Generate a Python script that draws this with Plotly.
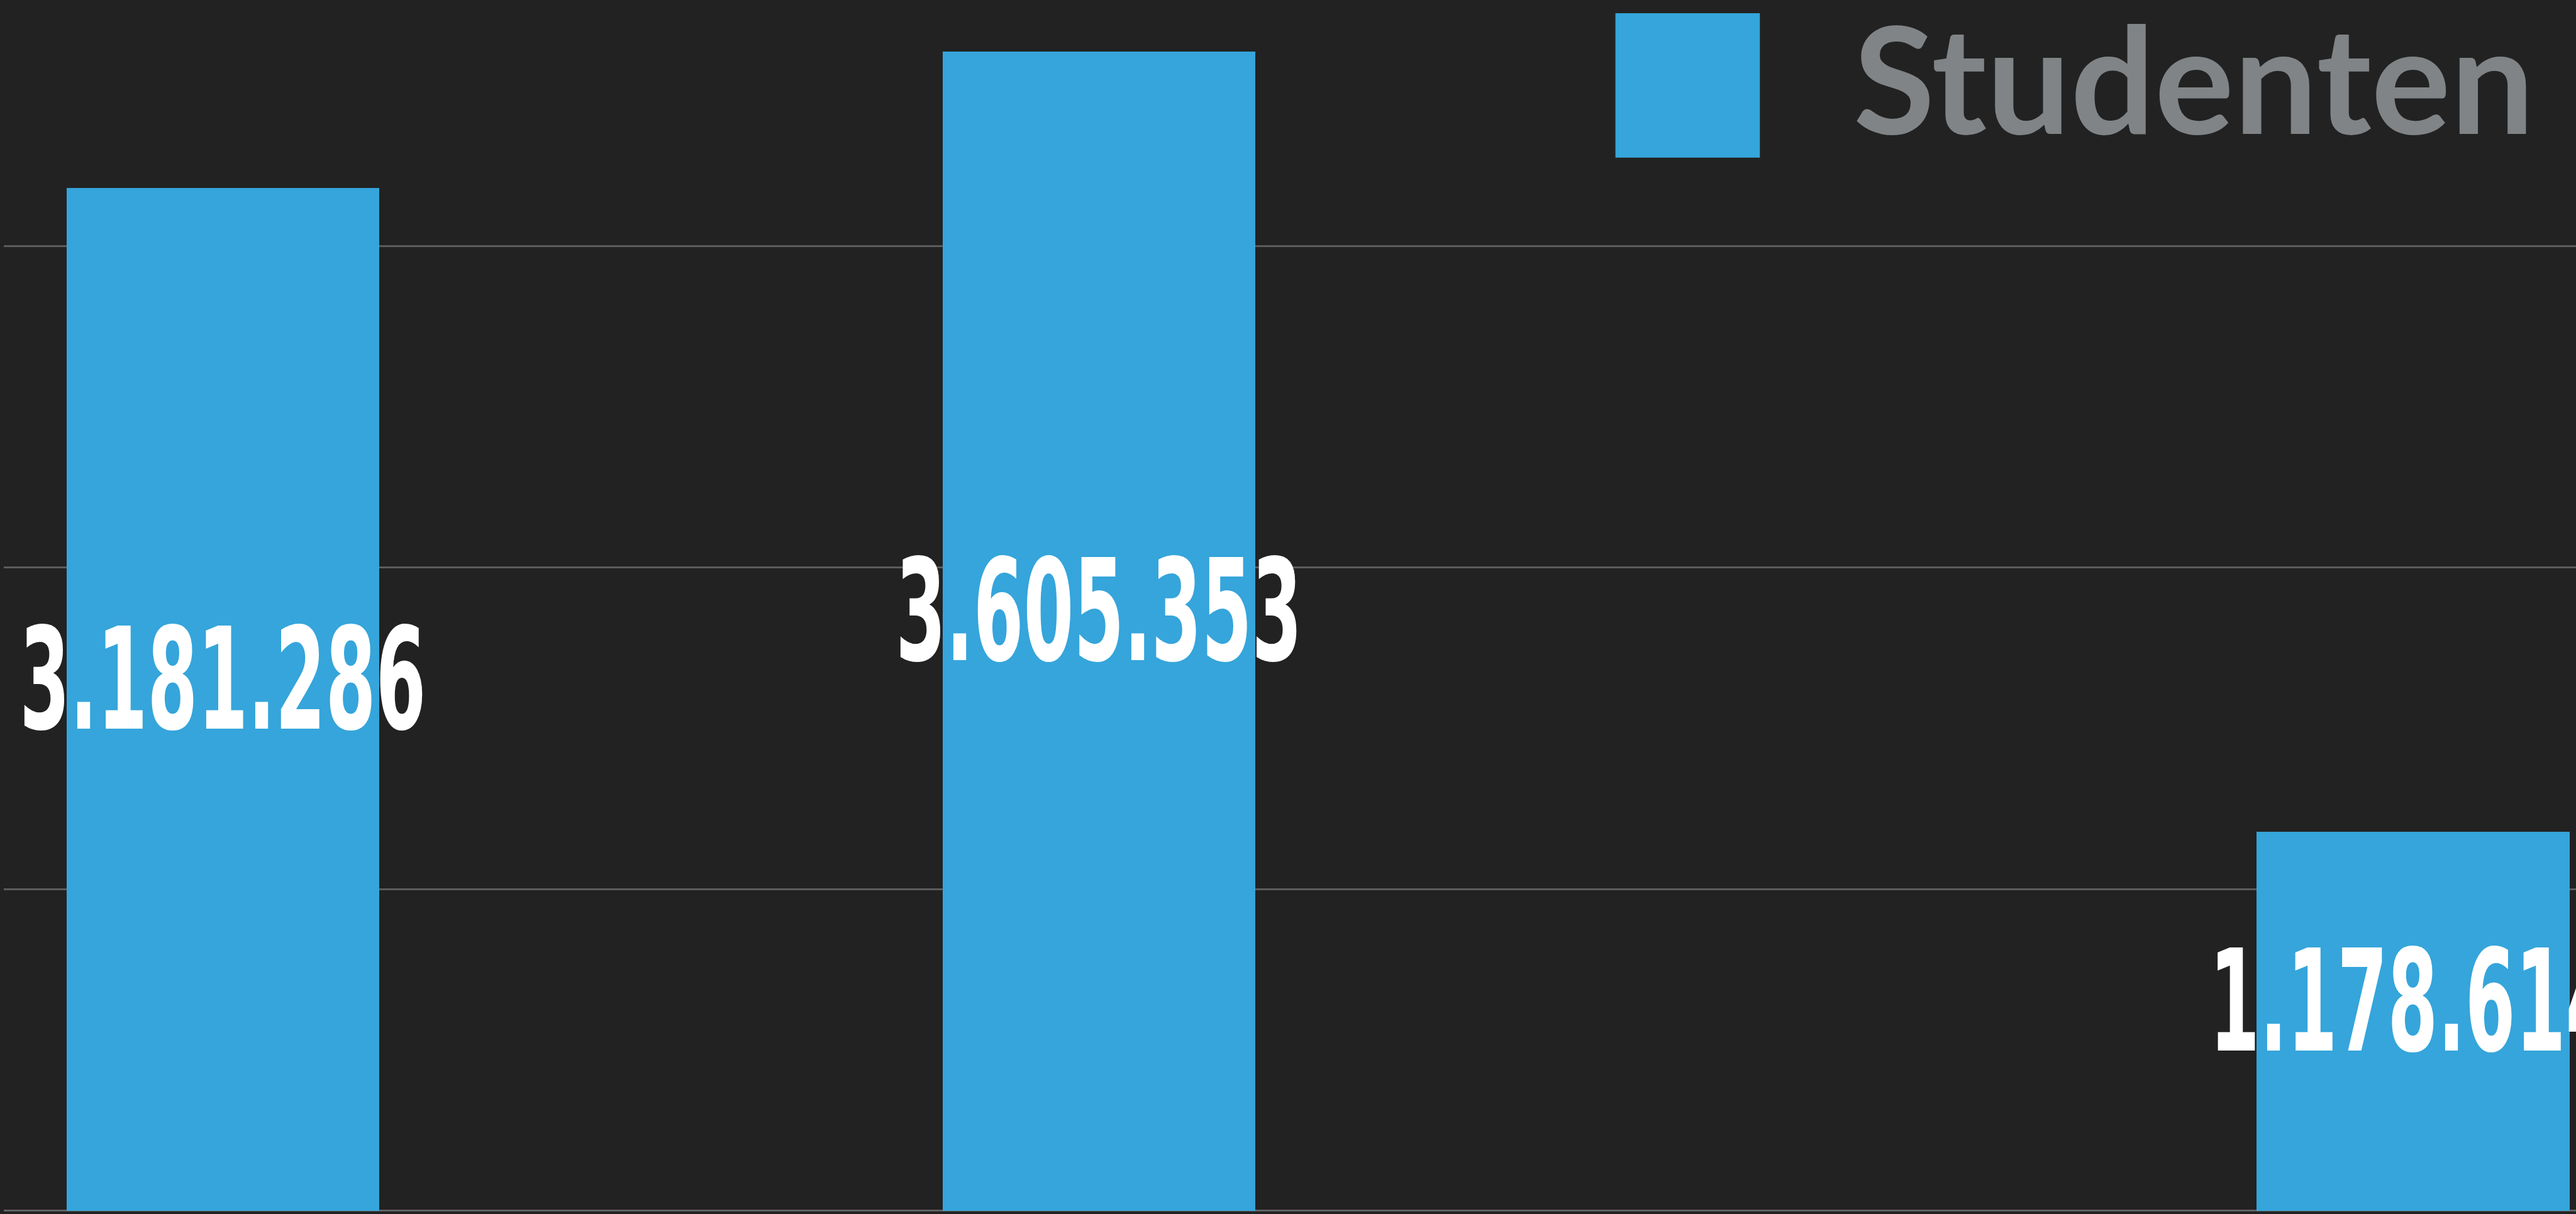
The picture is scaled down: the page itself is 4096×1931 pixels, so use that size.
import json
import plotly.graph_objects as go

# ---- data ----
series_name = "Studenten"
positions = [0, 1, 2.5]
values = [3181286, 3605353, 1178614]
value_labels = ["3.181.286", "3.605.353", "1.178.614"]

BG = "#222222"
BAR = "#35a5db"
GRID = "#5c5c5c"
LEGEND_TXT = "#808486"

W, H = 4096, 1931
ML = 6

fig = go.Figure()
fig.add_trace(go.Bar(
    x=positions, y=values, name=series_name,
    marker=dict(color=BAR, line=dict(width=0)),
    width=0.357, showlegend=False, hoverinfo="skip",
))

for xv, yv, lab in zip(positions, values, value_labels):
    fig.add_annotation(
        x=xv, y=yv / 2, xref="x", yref="y", text=lab, showarrow=False,
        xanchor="center", yanchor="middle", yshift=31,
        font=dict(family="DejaVu Sans Condensed, DejaVu Sans, sans-serif",
                  size=224, color="white", weight="bold"),
    )

# legend (manual, large)
fig.add_shape(type="rect", xref="paper", yref="paper",
              x0=(2568.6 - ML) / (W - ML), x1=(2798.3 - ML) / (W - ML),
              y0=1 - 250.7 / H, y1=1 - 21 / H,
              fillcolor=BAR, line=dict(width=0))
fig.add_annotation(
    x=(2945 - ML) / (W - ML), y=1 - 122 / H, xref="paper", yref="paper",
    text=series_name, showarrow=False, xanchor="left", yanchor="middle",
    font=dict(family="Lato, Open Sans, sans-serif", size=236, color=LEGEND_TXT, weight="bold"),
)

fig.update_layout(
    width=W, height=H,
    margin=dict(l=ML, r=0, t=0, b=0, pad=0),
    paper_bgcolor=BG, plot_bgcolor=BG,
    xaxis=dict(range=[-0.2503, 2.686], showgrid=False, zeroline=False,
               showticklabels=False, ticks="", showline=False),
    yaxis=dict(range=[-10755, 3765150], dtick=1000000, tick0=0,
               showgrid=True, gridcolor=GRID, gridwidth=2.5,
               zeroline=True, zerolinecolor="#606060", zerolinewidth=3,
               showticklabels=False, ticks="", showline=False),
    bargap=0,
)

post = """
document.body.style.margin='0';
document.body.style.background='%s';
var labs = %s;
var gd = document.getElementById('{plot_id}');
gd.querySelectorAll('text.annotation-text').forEach(function(t){
  if (labs.indexOf(t.textContent) >= 0) {
    t.setAttribute('textLength', '646');
    t.setAttribute('lengthAdjust', 'spacingAndGlyphs');
  }
});
""" % (BG, json.dumps(value_labels))

fig.write_html("out.html", post_script=post, config={"displayModeBar": False})
